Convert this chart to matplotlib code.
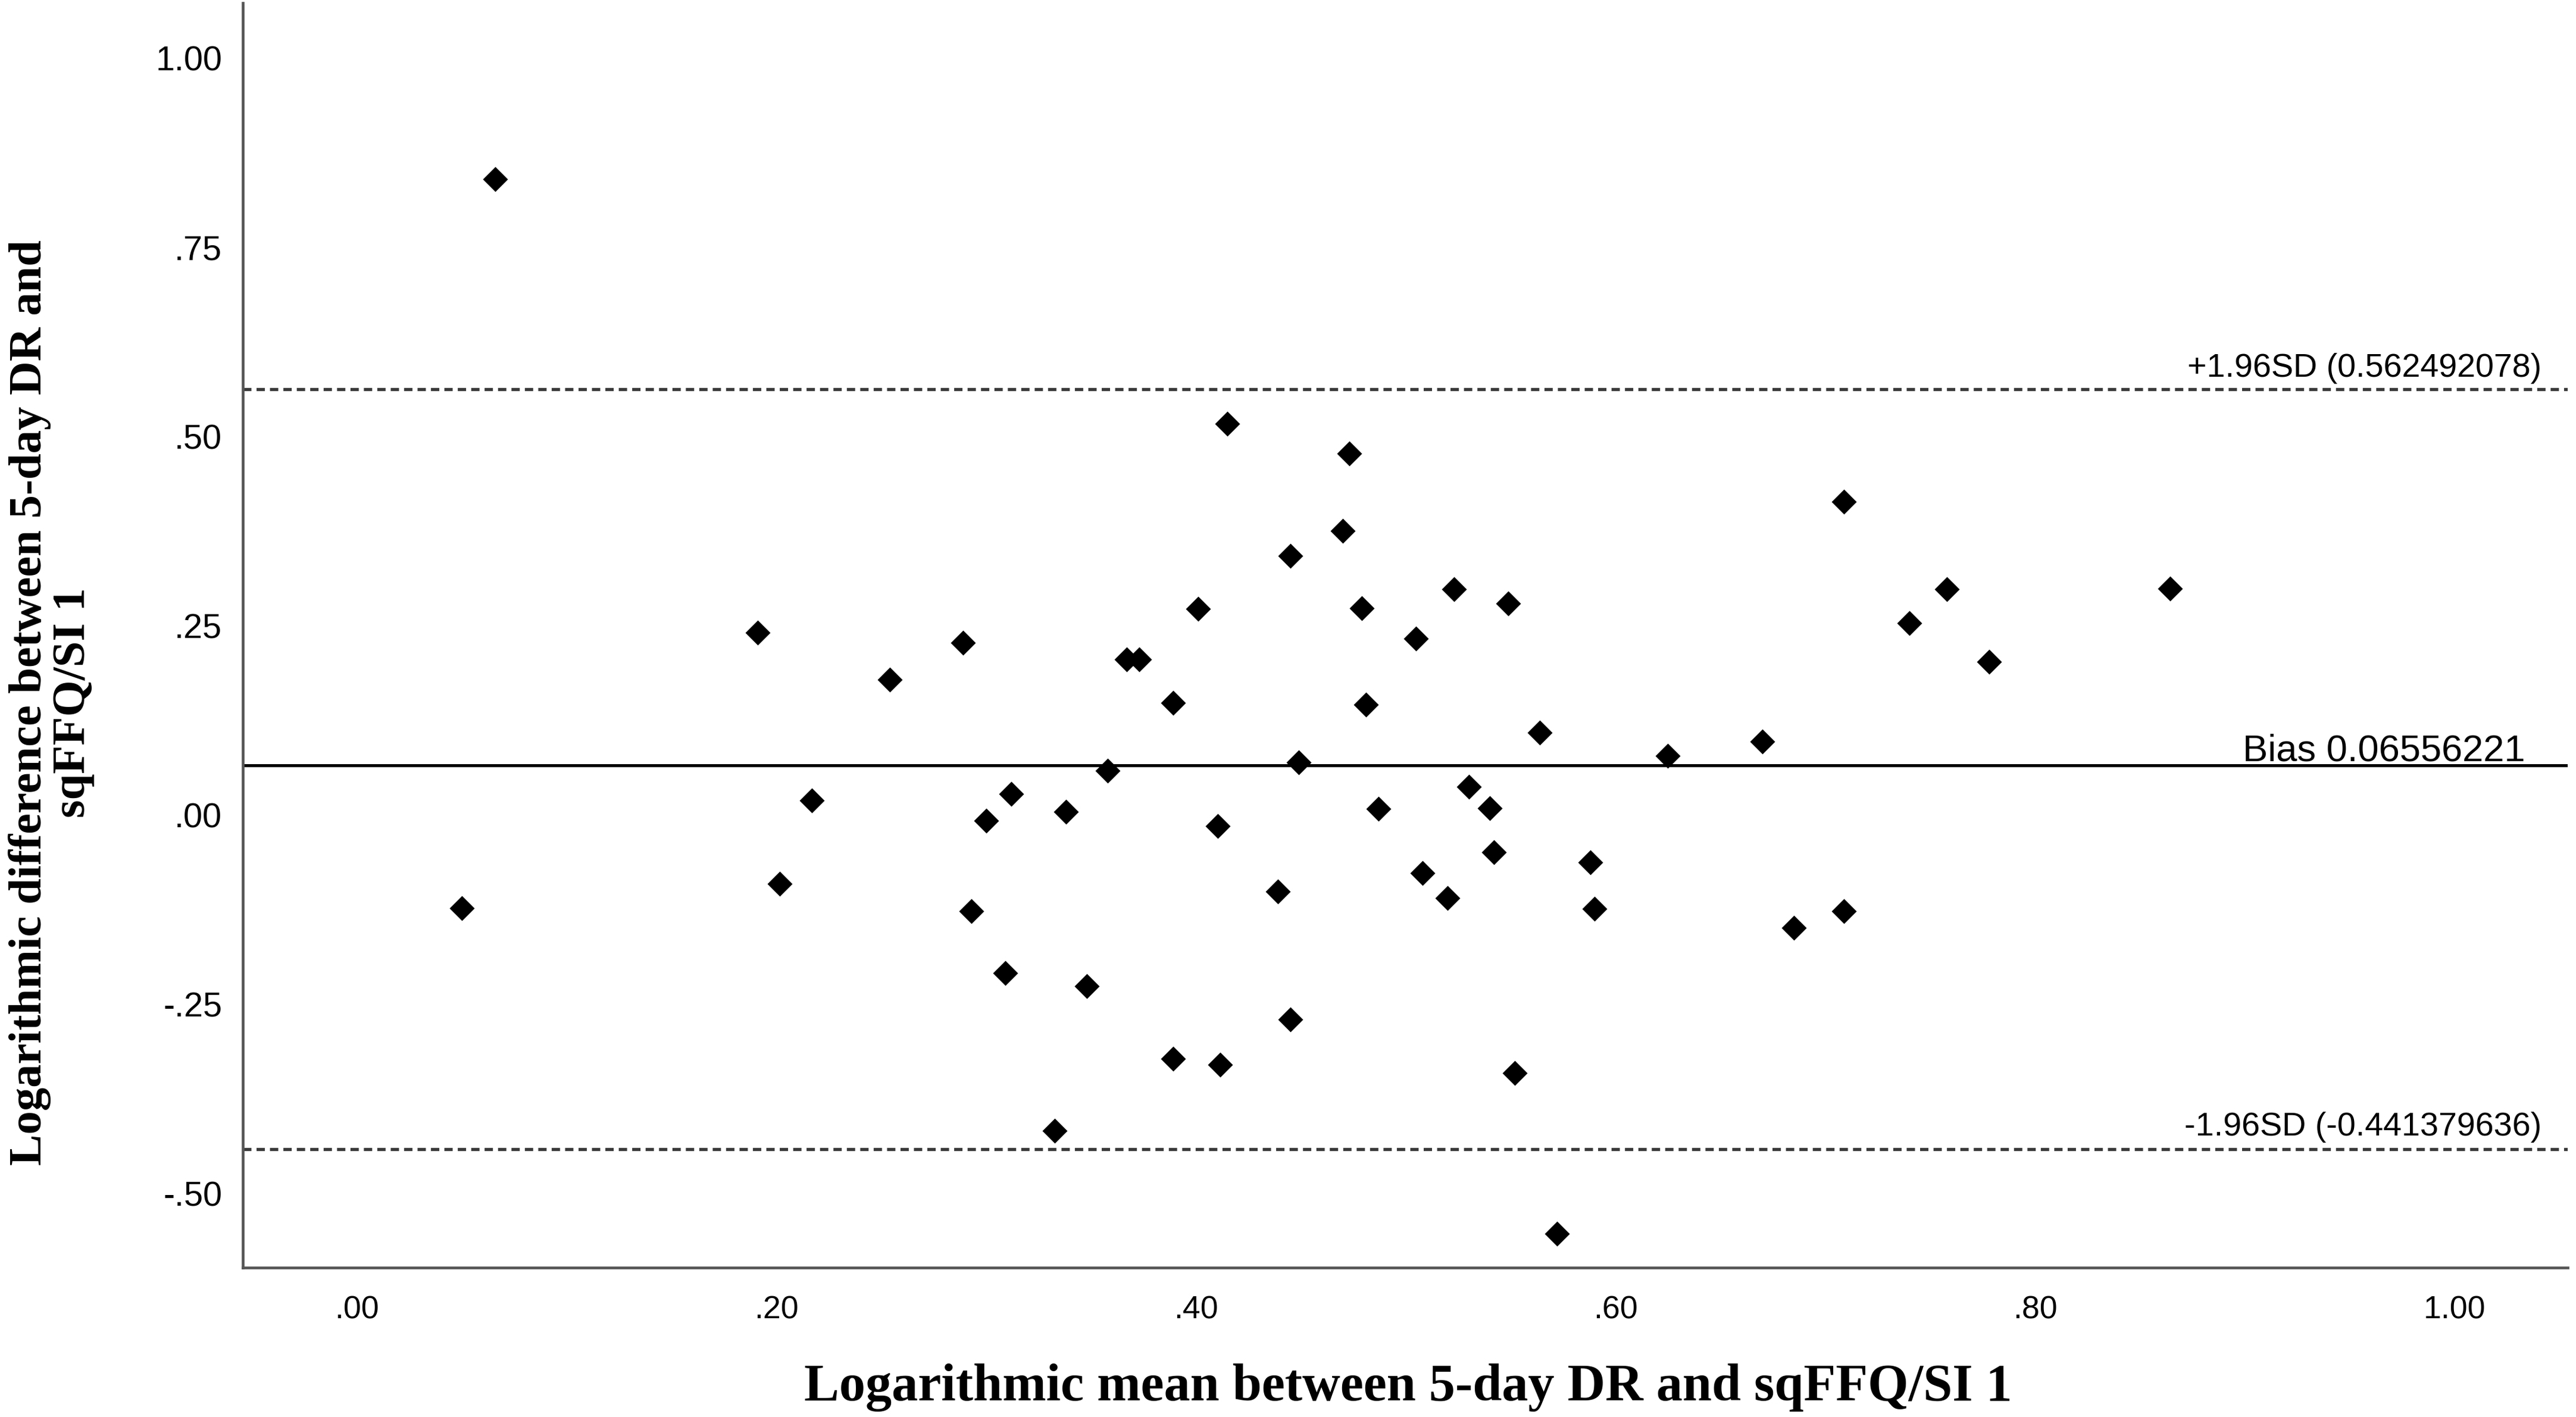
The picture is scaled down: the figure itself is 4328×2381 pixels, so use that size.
import numpy as np
import matplotlib
matplotlib.use("Agg")
import matplotlib.pyplot as plt

# Bland-Altman data
log_mean = [0.050, 0.066, 0.191, 0.2015, 0.217, 0.254, 0.289, 0.293, 0.300, 0.312,
            0.309, 0.338, 0.3325, 0.348, 0.358, 0.367, 0.373, 0.389, 0.389, 0.401,
            0.4105, 0.4115, 0.415, 0.439, 0.445, 0.445, 0.449, 0.470, 0.473, 0.479,
            0.481, 0.487, 0.505, 0.508, 0.520, 0.523, 0.530, 0.540, 0.542, 0.549,
            0.552, 0.564, 0.572, 0.588, 0.590, 0.625, 0.670, 0.685, 0.709, 0.709,
            0.740, 0.758, 0.778, 0.8645]
log_diff = [-0.123, 0.840, 0.241, -0.091, 0.019, 0.179, 0.227, -0.127, -0.008, 0.028,
            -0.209, 0.004, -0.417, -0.226, 0.058, 0.205, 0.205, 0.148, -0.322, 0.272,
            -0.015, -0.330, 0.517, -0.101, 0.342, -0.270, 0.069, 0.375, 0.477, 0.273,
            0.146, 0.008, 0.233, -0.077, -0.110, 0.298, 0.037, 0.009, -0.049, 0.279,
            -0.341, 0.109, -0.553, -0.063, -0.124, 0.078, 0.097, -0.149, 0.414, -0.127,
            0.253, 0.298, 0.202, 0.299]

bias = 0.06556221
upper_loa = 0.562492078
lower_loa = -0.441379636

x_ticks = [0.0, 0.2, 0.4, 0.6, 0.8, 1.0]
x_ticklabels = [".00", ".20", ".40", ".60", ".80", "1.00"]
y_ticks = [1.0, 0.75, 0.5, 0.25, 0.0, -0.25, -0.5]
y_ticklabels = ["1.00", ".75", ".50", ".25", ".00", "-.25", "-.50"]

fig = plt.figure(figsize=(4328 / 276, 2381 / 276), dpi=276)
ax = fig.add_axes([0.0942, 0.1054, 0.9026, 0.8923])

ax.scatter(log_mean, log_diff, marker="D", s=60, color="black", zorder=3, linewidths=0)

# bias and limits of agreement
ax.axhline(bias, color="black", linewidth=1.3, zorder=2)
ax.axhline(upper_loa, color="#3a3a3a", linewidth=1.4, linestyle=(0, (2.6, 1.6)), zorder=2)
ax.axhline(lower_loa, color="#3a3a3a", linewidth=1.4, linestyle=(0, (2.6, 1.6)), zorder=2)

ax.text(1.0415, upper_loa + 0.016, "+1.96SD (0.562492078)", ha="right", va="baseline",
        fontsize=14.5, family="Liberation Sans")
ax.text(1.0337, bias + 0.006, "Bias 0.06556221", ha="right", va="baseline",
        fontsize=16.5, family="Liberation Sans")
ax.text(1.0415, lower_loa + 0.018, "-1.96SD (-0.441379636)", ha="right", va="baseline",
        fontsize=14.5, family="Liberation Sans")

ax.set_xlim(-0.0545, 1.054)
ax.set_ylim(-0.598, 1.072)
ax.set_xticks(x_ticks)
ax.set_xticklabels(x_ticklabels, family="Liberation Sans", fontsize=14)
ax.set_yticks(y_ticks)
ax.set_yticklabels(y_ticklabels, family="Liberation Sans", fontsize=15)
ax.tick_params(length=0)
ax.tick_params(axis="x", pad=12)
ax.tick_params(axis="y", pad=9)

for side in ["top", "right"]:
    ax.spines[side].set_visible(False)
for side in ["left", "bottom"]:
    ax.spines[side].set_color("#555555")
    ax.spines[side].set_linewidth(1.2)

fig.text(0.5466, 0.0118, "Logarithmic mean between 5-day DR and sqFFQ/SI 1",
         ha="center", va="baseline", fontsize=23, fontweight="bold", family="Liberation Serif")
fig.text(0.020, 0.504, "Logarithmic difference between 5-day DR and\nsqFFQ/SI 1",
         ha="center", va="center", rotation=90, fontsize=20.5, fontweight="bold",
         family="Liberation Serif", linespacing=1.05)

fig.savefig("out.png", dpi=276, facecolor="white")
